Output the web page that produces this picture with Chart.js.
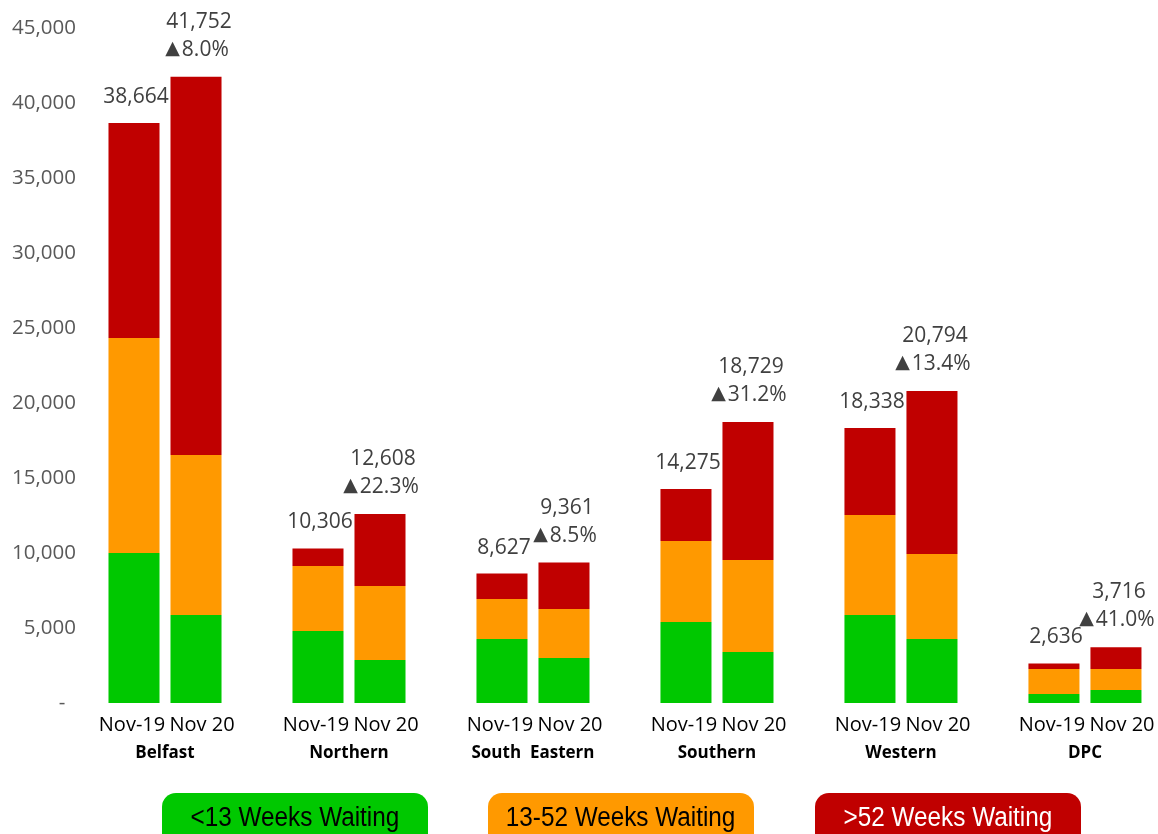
<!DOCTYPE html>
<html>
<head>
<meta charset="utf-8">
<script src="https://cdn.jsdelivr.net/npm/chart.js@4"></script>
<style>
  html, body { margin: 0; padding: 0; background: #fff; overflow: hidden; }
  #wrap { position: relative; width: 1158px; height: 834px; }
  #legend .item {
    position: absolute; top: 793px; height: 60px; width: 266px;
    border-radius: 14px; text-align: center;
    font-family: "Liberation Sans", sans-serif;
    font-size: 27px; line-height: 48px;
  }
  #legend .item span { display: inline-block; transform: scaleX(0.9); transform-origin: center; }
</style>
</head>
<body>
<div id="wrap">
  <canvas id="waitChart"></canvas>
  <div id="legend"></div>
</div>
<script>
// regions and the two snapshot months
const regions = ['Belfast', 'Northern', 'South  Eastern', 'Southern', 'Western', 'DPC'];
const periods = ['Nov-19', 'Nov 20'];

// Nov-19 waiting list split
const under13_19 = [10000, 4800, 4270, 5400, 5870, 600];
const weeks13to52_19 = [14330, 4330, 2660, 5400, 6660, 1670];
const over52_19 = [14334, 1176, 1697, 3475, 5808, 366];

// Nov 20 waiting list split
const under13_20 = [5870, 2870, 3000, 3400, 4270, 870];
const weeks13to52_20 = [10660, 4930, 3270, 6130, 5660, 1400];
const over52_20 = [25222, 4808, 3091, 9199, 10864, 1446];

// totals and change shown above bars
const totals19 = [38664, 10306, 8627, 14275, 18338, 2636];
const totals20 = [41752, 12608, 9361, 18729, 20794, 3716];
const changes = ['8.0%', '22.3%', '8.5%', '31.2%', '13.4%', '41.0%'];

const legendLabels = ['<13 Weeks Waiting', '13-52 Weeks Waiting', '>52 Weeks Waiting'];
const colours = ['#00c800', '#ff9900', '#c00000'];
const legendText = ['#000', '#000', '#fff'];

const xs = regions.map((r, i) => i);
const pts = arr => arr.map((v, i) => ({ x: xs[i], y: v }));

const fmt = n => n.toLocaleString('en-US');

const labelPlugin = {
    id: 'barLabels',
    afterDatasetsDraw(chart) {
        const ctx = chart.ctx;
        const top19 = chart.getDatasetMeta(2).data;
        const top20 = chart.getDatasetMeta(5).data;
        ctx.save();
        ctx.textBaseline = 'middle';
        regions.forEach((r, i) => {
            const a = top19[i], b = top20[i];
            // value labels
            ctx.textAlign = 'center';
            ctx.fillStyle = '#404040';
            ctx.font = '21px "Open Sans"';
            ctx.fillText(fmt(totals19[i]), a.x + 2, a.y - 26);
            ctx.fillText(fmt(totals20[i]), b.x + 3, b.y - 55);

            // triangle + percentage, centred together
            ctx.textAlign = 'left';
            ctx.font = '19px "DejaVu Sans"';
            const tw = ctx.measureText('▲').width;
            ctx.font = '21px "Open Sans"';
            const pw = ctx.measureText(changes[i]).width;
            const start = b.x + 1 - (tw + 2 + pw) / 2;
            ctx.font = '19px "DejaVu Sans"';
            ctx.fillText('▲', start, b.y - 28);
            ctx.font = '21px "Open Sans"';
            ctx.fillText(changes[i], start + tw + 2, b.y - 27);

            // period labels and region names
            ctx.textAlign = 'center';
            ctx.fillStyle = '#000';
            ctx.font = '20px "Open Sans"';
            ctx.fillText(periods[0], a.x - 2, 725);
            ctx.fillText(periods[1], b.x + 6, 725);
            ctx.font = 'bold 17px "Open Sans"';
            ctx.fillText(r, (a.x + b.x) / 2, 753);
        });
        ctx.restore();
    }
};

const ds = (label, data, stack, colour) => ({
    label: label,
    data: pts(data),
    stack: stack,
    backgroundColor: colour,
    borderWidth: 0,
    categoryPercentage: 0.674,
    barPercentage: 0.823
});

new Chart(document.getElementById('waitChart').getContext('2d'), {
    type: 'bar',
    data: {
        datasets: [
            ds(legendLabels[0], under13_19, 'nov19', colours[0]),
            ds(legendLabels[1], weeks13to52_19, 'nov19', colours[1]),
            ds(legendLabels[2], over52_19, 'nov19', colours[2]),
            ds(legendLabels[0], under13_20, 'nov20', colours[0]),
            ds(legendLabels[1], weeks13to52_20, 'nov20', colours[1]),
            ds(legendLabels[2], over52_20, 'nov20', colours[2])
        ]
    },
    options: {
        responsive: true,
        maintainAspectRatio: false,
        animation: false,
        layout: { padding: { top: 28, bottom: 131, left: 0, right: 0 } },
        plugins: {
            legend: { display: false },
            tooltip: { enabled: false }
        },
        scales: {
            x: {
                type: 'linear',
                offset: false,
                min: -0.462,
                max: 5.397,
                ticks: { display: false, stepSize: 1, includeBounds: false },
                grid: { display: false, drawTicks: false },
                border: { display: false }
            },
            y: {
                stacked: true,
                min: 0,
                max: 45000,
                afterFit: scale => { scale.width = 80; },
                ticks: {
                    stepSize: 5000,
                    padding: 4,
                    color: '#595959',
                    font: { family: 'Open Sans', size: 20.5 },
                    callback: v => v === 0 ? '-  ' : fmt(v)
                },
                grid: { display: false, drawTicks: false },
                border: { display: false }
            }
        }
    },
    plugins: [labelPlugin]
});

// legend boxes under the chart
const legendLeft = [162, 488, 815];
const legend = document.getElementById('legend');
legendLabels.forEach((t, i) => {
    const d = document.createElement('div');
    d.className = 'item';
    d.style.left = legendLeft[i] + 'px';
    d.style.background = colours[i];
    d.style.color = legendText[i];
    const s = document.createElement('span');
    s.textContent = t;
    d.appendChild(s);
    legend.appendChild(d);
});
</script>
</body>
</html>
